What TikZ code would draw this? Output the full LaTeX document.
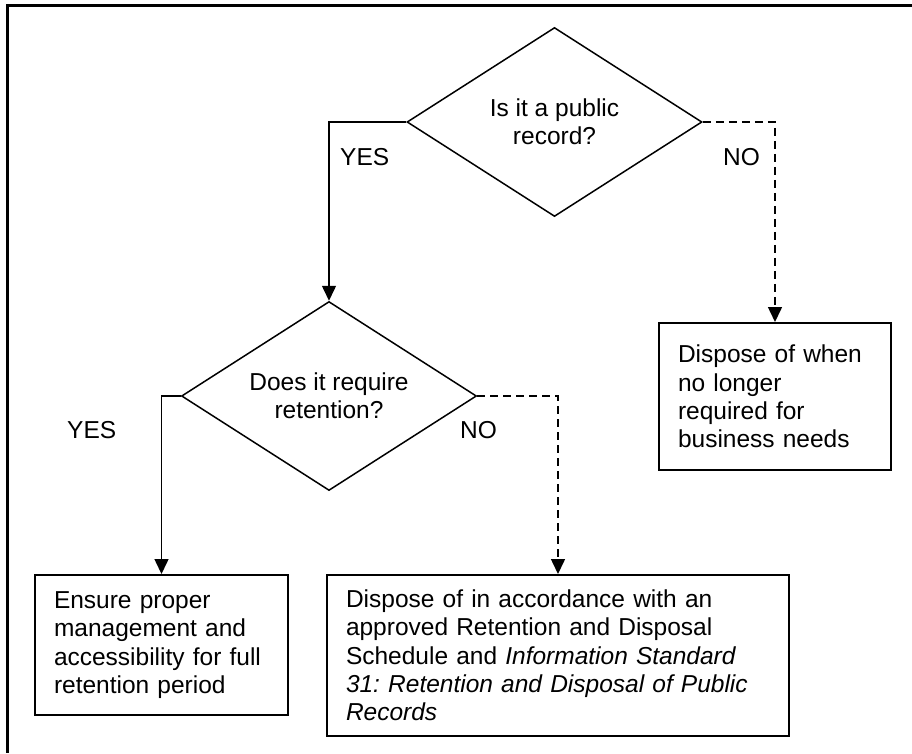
\documentclass[tikz,border=0pt]{standalone}
\usepackage{fontspec}
\setmainfont{Liberation Sans}
\usetikzlibrary{shapes.geometric,arrows.meta}
\frenchspacing
\begin{document}
\begin{tikzpicture}[x=1pt,y=-1pt,
  txt/.style={font=\fontsize{24.5pt}{28.3pt}\selectfont\frenchspacing},
  decision/.style={txt,draw,diamond,shape aspect=1.56,minimum width=295pt,minimum height=189pt,inner sep=0pt,align=center,line width=1.5pt},
  box/.style={txt,draw,rectangle,line width=2pt,anchor=north west,align=left,inner xsep=19pt,inner ysep=0pt},
  lbl/.style={txt,anchor=base west,inner sep=0pt},
  conn/.style={line width=1.5pt,-{Triangle[length=15pt,width=14pt]}},
  noconn/.style={conn,dash pattern=on 8pt off 5pt}
]
\useasboundingbox (0,0) rectangle (912,753);
\draw[line width=2.2pt] (912,5.5) -- (7.5,5.5) -- (7.5,753);

\node[decision] (q1) at (554.5,122) {Is it a public\\record?};
\node[decision] (q2) at (329,396) {Does it require\\retention?};

\node[box,minimum width=253pt,minimum height=140pt,text width=215pt] (b1) at (34,574)
  {Ensure proper\\management and\\accessibility for full\\retention period};
\node[box,minimum width=462pt,minimum height=161pt,text width=424pt] (b2) at (326,574)
  {Dispose of in accordance with an\\approved Retention and Disposal\\Schedule and {\itshape Information Standard}\\{\itshape 31: Retention and Disposal of Public}\\{\itshape Records}};
\node[box,minimum width=232pt,minimum height=147pt,text width=194pt] (b3) at (658,322)
  {Dispose of when\\no longer\\required for\\business needs};

\draw[conn] (q1.west) -| (q2.north);
\draw[noconn] (q1.east) -| (b3.north);
\draw[conn] (q2.west) -| (b1.north);
\draw[noconn] (q2.east) -| (b2.north);

\node[lbl] (y1) at (340,165) {YES};
\node[lbl] (n1) at (723,165) {NO};
\node[lbl] (y2) at (67,438) {YES};
\node[lbl] (n2) at (460,438) {NO};
\end{tikzpicture}
\end{document}
